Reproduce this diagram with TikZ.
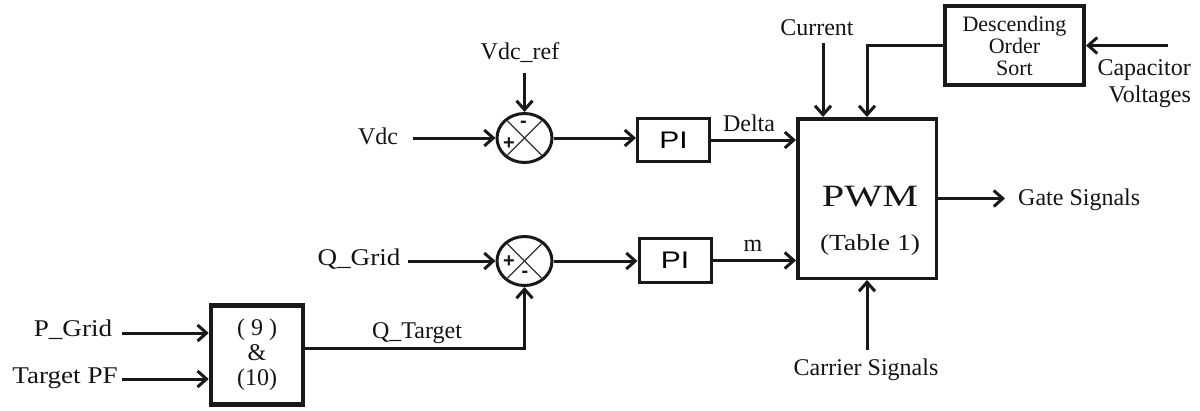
\documentclass[tikz,border=0pt]{standalone}
\usepackage{fontspec}
\setmainfont{Liberation Serif}
\newfontfamily\signfont{Liberation Sans}
\usetikzlibrary{arrows.meta,shapes.geometric}
\begin{document}
\begin{tikzpicture}[x=1pt,y=-1pt,
  lbl/.style={inner sep=0pt, font=\fontsize{24}{25}\selectfont, text=black!92},
  lblw/.style={lbl, transform shape, xscale=1.13},
  blk/.style={draw=black!90, line width=3pt, inner sep=0pt},
  sumj/.style={draw=black!90, ellipse, line width=3pt, minimum width=55pt, minimum height=49pt, inner sep=0pt, outer sep=1.5pt},
  arr/.style={draw=black!90, line width=3pt, -{Straight Barb[length=9pt,width=16pt,line width=3pt]}},
  xline/.style={draw=black!80, line width=1.2pt},
  sgn/.style={inner sep=0pt, font=\signfont\bfseries\fontsize{20}{20}\selectfont, text=black!90},
]
\useasboundingbox (0,0) rectangle (1200,410);

% summing junctions
\node[sumj] (s1) at (524.5,138) {};
\node[sumj] (s2) at (524.5,261) {};
\draw[xline] ([shift={(-17,-17)}]s1.center) -- ([shift={(17,17)}]s1.center);
\draw[xline] ([shift={(-17,17)}]s1.center) -- ([shift={(17,-17)}]s1.center);
\draw[xline] ([shift={(-17,-17)}]s2.center) -- ([shift={(17,17)}]s2.center);
\draw[xline] ([shift={(-17,17)}]s2.center) -- ([shift={(17,-17)}]s2.center);
\node[sgn] (s1p) at (509,144) {+};
\node[sgn] (s1m) at (523.5,124) {-};
\node[sgn] (s2p) at (509,262) {+};
\node[sgn] (s2m) at (525,274) {-};

% blocks
\node[blk, minimum width=72pt, minimum height=43pt] (pi1) at (673.5,140)
  {\signfont\fontsize{24}{24}\selectfont\scalebox{1.25}[1]{PI}};
\node[blk, minimum width=72pt, minimum height=44pt] (pi2) at (675,260.5)
  {\signfont\fontsize{24}{24}\selectfont\scalebox{1.25}[1]{PI}};
\node[blk, line width=3.5pt, minimum width=138.5pt, minimum height=159.5pt] (pwm) at (867,198.5) {};
\node[lbl] (pwmT) at (870,197) {\fontsize{31}{31}\selectfont\scalebox{1.3}[1]{PWM}};
\node[lbl] (tabT) at (870,245) {\fontsize{23}{23}\selectfont\scalebox{1.2}[1]{(Table 1)}};
\node[blk, line width=4pt, minimum width=139pt, minimum height=79pt, align=center,
      font=\fontsize{22}{22}\selectfont, text=black!92] (sort) at (1014.5,45.5)
  {Descending\\Order\\Sort};
\node[blk, line width=4.5pt, minimum width=92pt, minimum height=99pt, align=center,
      font=\fontsize{24}{25}\selectfont, text=black!92] (eq) at (257,355)
  {( 9 )\\\&\\(10)};

% labels
\node[lbl] (vdc) at (378,136) {Vdc};
\node[lbl] (vdcref) at (520,53) {Vdc\_ref};
\node[lblw] (qgrid) at (359,259) {Q\_Grid};
\node[lblw] (pgrid) at (73,330) {P\_Grid};
\node[lblw] (tpf) at (65,378) {Target PF};
\node[lbl] (qt) at (417,333) {Q\_Target};
\node[lbl] (delta) at (749,123) {Delta};
\node[lbl] (mm) at (753,246) {m};
\node[lbl] (cur) at (817,28) {Current};
\node[lbl, align=right, anchor=east, font=\fontsize{24}{27}\selectfont] (cap) at (1191,84) {Capacitor\\Voltages};
\node[lbl, anchor=west] (gate) at (1018,200) {Gate Signals};
\node[lbl] (car) at (866,370) {Carrier Signals};

% free ends
\coordinate (vdcS) at (413,138);
\coordinate (vdcrefS) at (524.5,73);
\coordinate (qgridS) at (408,261);
\coordinate (pgridS) at (122,333);
\coordinate (tpfS) at (122,379);
\coordinate (curS) at (823,43);
\coordinate (capS) at (1168,45.5);
\coordinate (gateE) at (1005,198.5);
\coordinate (carS) at (867,350);

% connectors
\draw[arr] (vdcS) -- (s1.west);
\draw[arr] (vdcrefS) -- (s1.north);
\draw[arr] (s1.east) -- (pi1.west |- s1.east);
\draw[arr] (pi1.east) -- (pwm.west |- pi1.east);
\draw[arr] (qgridS) -- (s2.west);
\draw[arr] (s2.east) -- (pi2.west |- s2.east);
\draw[arr] (pi2.east) -- (pwm.west |- pi2.east);
\draw[arr] (pgridS) -- (eq.west |- pgridS);
\draw[arr] (tpfS) -- (eq.west |- tpfS);
\draw[arr] (eq.east |- 0,348) -| (s2.south);
\draw[arr] (curS) -- (curS |- pwm.north);
\draw[arr] (sort.west) -| (pwm.north);
\draw[arr] (capS) -- (sort.east);
\draw[arr] (pwm.east) -- (gateE);
\draw[arr] (carS) -- (pwm.south);
\end{tikzpicture}
\end{document}
